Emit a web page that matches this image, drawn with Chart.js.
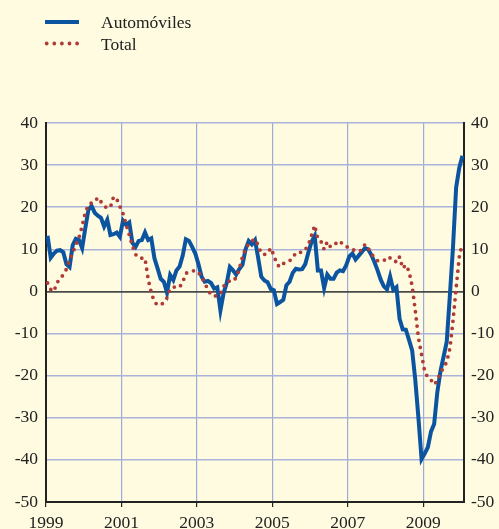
<!DOCTYPE html>
<html>
<head>
<meta charset="utf-8">
<script src="https://cdn.jsdelivr.net/npm/chart.js@4.4.0/dist/chart.umd.min.js"></script>
<style>
  html, body { margin: 0; padding: 0; background: #fefbe0; }
  #wrap { width: 499px; height: 529px; position: relative; }
</style>
</head>
<body>
<div id="wrap"><canvas id="chart"></canvas></div>
<script>
// Monthly series, Jan 1999 .. Jan 2010 (year-on-year %)
const startYear = 1999;
const seriesNames = ["Automóviles", "Total"];

const autos = [
  13.2, 8, 9, 9.7, 9.8, 9.3, 6.5, 5.8, 11, 12.5, 12.2, 10.3,
  15, 19.4, 20.3, 18.7, 18, 17.5, 15.4, 17, 13.4, 13.6, 14, 13,
  16.8, 15.8, 16.4, 11.5, 10.6, 12, 12.2, 14, 12.2, 12.6, 7.9, 5.5,
  3, 2.3, -0.3, 3.9, 2.7, 5, 5.9, 8.5, 12.4, 12, 10.6, 9,
  6.5, 3.5, 2.3, 2.5, 2, 0.7, 1, -4.5, -0.4, 2, 5.8, 5,
  4, 5.3, 6.3, 10, 12, 11.2, 12.2, 8, 3.5, 2.6, 2.2, 0.6,
  0.3, -3, -2.5, -2, 1.5, 2.3, 4.4, 5.4, 5.2, 5.3, 6.5, 9.3,
  11.8, 13.2, 5, 5, 0.8, 4, 3, 3, 4.5, 5, 4.8, 6.2,
  8.3, 9, 7.6, 8.5, 9.4, 10.3, 10, 8.7, 7, 5, 2.8, 1.2,
  0.5, 3.5, 0.4, 1, -6.5, -9, -9.1, -11.5, -14, -21, -30, -39.8,
  -38.5, -37, -33.3, -31.5, -24, -19, -15.5, -12, -1, 10.5, 24.7, 29.4,
  32.2
];

const total = [
  2, 0.5, 0, 2.1, 3, 4, 5.3, 7.5, 9.2, 11, 12.8, 15.5,
  18.7, 20.6, 21, 21.3, 22.3, 21.3, 20.3, 19.8, 20, 22.5, 22, 20.2,
  18.5, 16, 13.4, 10.8, 8.8, 8, 7.9, 7.9, 3, -0.3, -2.5, -3.2,
  -3.2, -2.6, -1.5, 0.5, 1.1, 0.9, 1, 2.2, 4.3, 4.6, 4.8, 5,
  4.5, 3.5, 2, 0.5, -0.8, -1.1, -1, -0.6, 1.2, 2.2, 2.5, 2.4,
  3.3, 5.3, 8.2, 10.2, 11.3, 12, 12.4, 11, 9, 8.8, 9, 10.3,
  8.6, 6.4, 5.8, 6.6, 7, 7.3, 7.9, 9.2, 9.3, 9.3, 10, 11,
  13.4, 15.7, 12.5, 11.9, 10, 11.8, 10.6, 10.8, 11.6, 12, 11.1, 10.7,
  10.3, 10, 9.6, 9.6, 9.8, 11.2, 10.3, 9, 8, 7.3, 7.2, 7.5,
  7.2, 8, 7.8, 6.9, 8.2, 5.5, 6.3, 4.8, 1.3, -4.5, -11, -15,
  -19, -20.4, -21, -22.1, -21.2, -19.2, -18.2, -16.7, -13.6, -7, 0.8, 8.2,
  11.5
];

const yearTicks = [1999, 2001, 2003, 2005, 2007, 2009];
const yTicks = [-50, -40, -30, -20, -10, 0, 10, 20, 30, 40];

const blue = '#0a54a0';
const red = '#b03a36';
const serif = '"Liberation Serif", "DejaVu Serif", serif';

// points sit in the middle of each month
const toPoints = arr => arr.map((v, i) => ({ x: startYear + (i + 0.5) / 12, y: v }));

// legend drawn by hand at the top
const legendPlugin = {
    id: 'topLegend',
    afterDraw(chart) {
        const ctx = chart.ctx;
        ctx.save();
        ctx.lineCap = 'butt';
        ctx.strokeStyle = blue;
        ctx.lineWidth = 4;
        ctx.beginPath();
        ctx.moveTo(45, 22);
        ctx.lineTo(79, 22);
        ctx.stroke();

        ctx.strokeStyle = red;
        ctx.lineWidth = 3.8;
        ctx.lineCap = 'round';
        ctx.setLineDash([0, 7.6]);
        ctx.beginPath();
        ctx.moveTo(46.7, 43.5);
        ctx.lineTo(79, 43.5);
        ctx.stroke();
        ctx.setLineDash([]);

        ctx.fillStyle = '#222';
        ctx.font = '17.5px ' + serif;
        ctx.textBaseline = 'alphabetic';
        ctx.fillText(seriesNames[0], 101, 28);
        ctx.fillText(seriesNames[1], 101, 50);
        ctx.restore();
    }
};

const tickFont = { family: serif, size: 17.5 };

new Chart(document.getElementById('chart'), {
    type: 'line',
    data: {
        datasets: [{
            label: seriesNames[0],
            data: toPoints(autos),
            borderColor: blue,
            borderWidth: 4,
            pointRadius: 0,
            tension: 0,
            order: 1
        }, {
            label: seriesNames[1],
            data: toPoints(total),
            borderColor: red,
            borderWidth: 3.8,
            borderDash: [0, 7.2],
            borderCapStyle: 'round',
            pointRadius: 0,
            tension: 0,
            order: 0
        }]
    },
    options: {
        responsive: true,
        maintainAspectRatio: false,
        animation: false,
        layout: { padding: { top: 123, left: 0, right: 0, bottom: 0 } },
        plugins: {
            legend: { display: false },
            tooltip: { enabled: false }
        },
        scales: {
            x: {
                type: 'linear',
                min: startYear,
                max: 2010 + 1 / 12,
                afterBuildTicks: scale => { scale.ticks = yearTicks.map(v => ({ value: v })); },
                afterFit: scale => { scale.height = 27; },
                grid: {
                    color: '#9eabda',
                    lineWidth: 1.2,
                    tickLength: 5,
                    tickColor: '#222'
                },
                border: { color: '#222', width: 2 },
                ticks: {
                    font: tickFont,
                    color: '#222',
                    padding: 6,
                    maxRotation: 0,
                    autoSkip: false,
                    callback: v => String(v)
                }
            },
            y: {
                position: 'left',
                min: -50,
                max: 40,
                afterBuildTicks: scale => { scale.ticks = yTicks.map(v => ({ value: v })); },
                afterFit: scale => { scale.width = 46; },
                grid: {
                    color: c => c.tick && c.tick.value === 0 ? '#4a4a4a' : '#aab3d9',
                    lineWidth: c => c.tick && c.tick.value === 0 ? 1.8 : 1.5,
                    drawTicks: false
                },
                border: { color: '#222', width: 2 },
                ticks: { font: tickFont, color: '#222', padding: 8 }
            },
            y2: {
                position: 'right',
                min: -50,
                max: 40,
                afterBuildTicks: scale => { scale.ticks = yTicks.map(v => ({ value: v })); },
                afterFit: scale => { scale.width = 35; },
                grid: { drawOnChartArea: false, drawTicks: false },
                border: { color: '#222', width: 2 },
                ticks: { font: tickFont, color: '#222', padding: 7 }
            }
        }
    },
    plugins: [legendPlugin]
});
</script>
</body>
</html>
